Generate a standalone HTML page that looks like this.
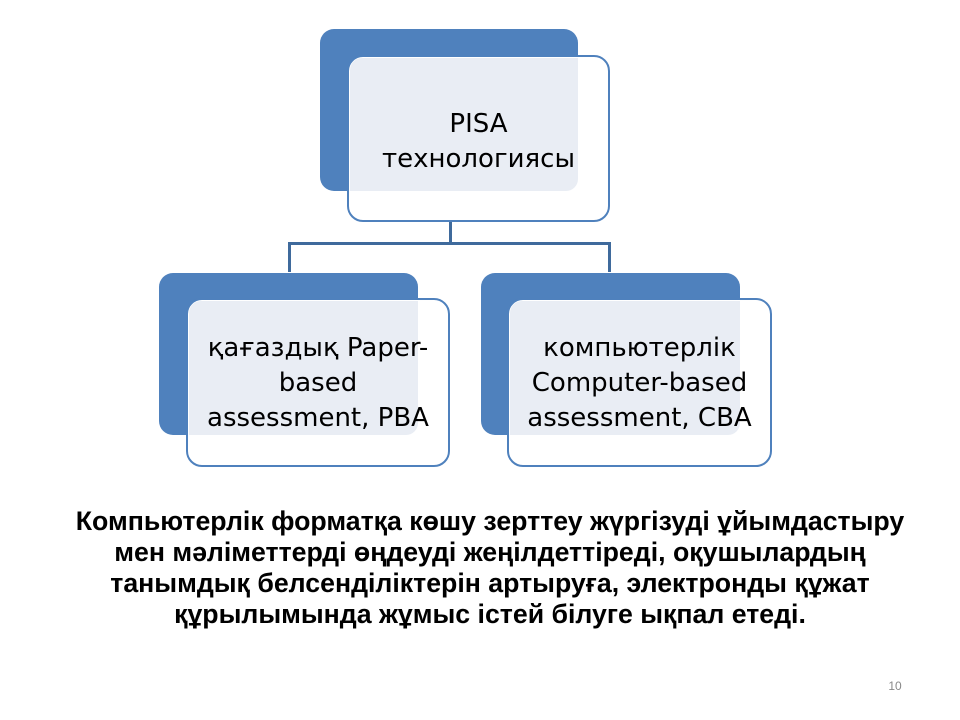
<!DOCTYPE html>
<html><head><meta charset="utf-8"><style>
body{margin:0;width:960px;height:720px;background:#fff;position:relative;overflow:hidden;font-family:"Liberation Sans","DejaVu Sans",sans-serif}
.b{position:absolute;background:#4f81bd;border-radius:14px}
.w{position:absolute;background:#fff;border:2.5px solid #4f81bd;border-radius:16px;box-sizing:border-box}
.ov{position:absolute;background:#e9edf4;border-radius:12px}
.t{position:absolute;text-align:center;font-family:"DejaVu Sans","Liberation Sans",sans-serif;color:#000;display:flex;align-items:center;justify-content:center;line-height:35px;white-space:nowrap}
.l{position:absolute;background:#3f6a9c}
</style></head><body>
<div class="b" style="left:320px;top:29px;width:258px;height:162px"></div>
<div class="w" style="left:347px;top:55px;width:263px;height:167px"></div>
<div class="ov" style="left:350px;top:58px;width:228px;height:133px;border-radius:12px 0 12px 0"></div>
<div class="t" style="left:347px;top:97px;width:263px;height:90px;font-size:26px">PISA<br>технологиясы</div>
<div class="l" style="left:449px;top:222px;width:3px;height:22px"></div>
<div class="l" style="left:288px;top:242px;width:323px;height:3px"></div>
<div class="l" style="left:288px;top:242px;width:3px;height:30px"></div>
<div class="l" style="left:608px;top:242px;width:3px;height:30px"></div>

<div class="b" style="left:159px;top:273px;width:259px;height:162px"></div>
<div class="w" style="left:186px;top:298px;width:264px;height:169px"></div>
<div class="ov" style="left:189px;top:301px;width:229px;height:134px;border-radius:12px 0 12px 0"></div>
<div class="t" style="left:186px;top:331px;width:264px;height:105px;font-size:26px">қағаздық Paper-<br>based<br>assessment, PBA</div>

<div class="b" style="left:481px;top:273px;width:259px;height:162px"></div>
<div class="w" style="left:507px;top:298px;width:265px;height:169px"></div>
<div class="ov" style="left:510px;top:301px;width:230px;height:134px;border-radius:12px 0 12px 0"></div>
<div class="t" style="left:507px;top:331px;width:265px;height:105px;font-size:26px">компьютерлік<br>Computer-based<br>assessment, CBA</div>

<div style="position:absolute;left:10px;top:506px;width:960px;text-align:center;font-weight:bold;font-size:26.7px;line-height:31px;white-space:nowrap">Компьютерлік форматқа көшу зерттеу жүргізуді ұйымдастыру<br>мен мәліметтерді өңдеуді жеңілдеттіреді, оқушылардың<br>танымдық белсенділіктерін артыруға, электронды құжат<br>құрылымында жұмыс істей білуге ықпал етеді.</div>
<div style="position:absolute;left:880px;top:679px;width:30px;text-align:center;font-size:12px;color:#888">10</div>
</body></html>
